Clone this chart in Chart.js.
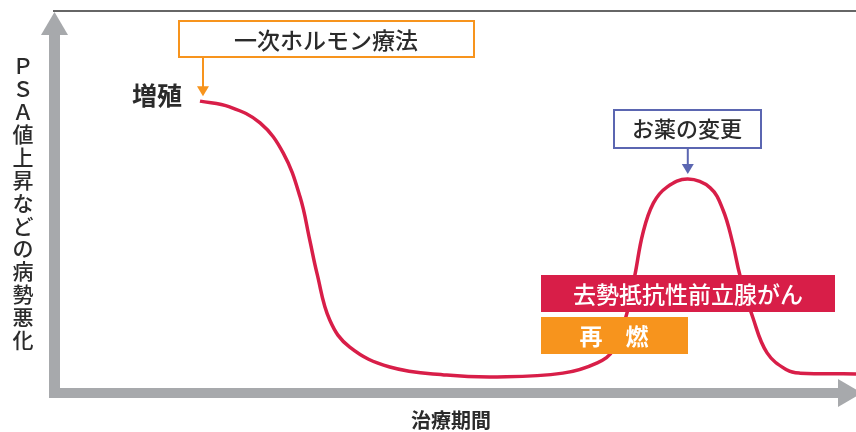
<!DOCTYPE html>
<html>
<head>
<meta charset="utf-8">
<script src="https://cdn.jsdelivr.net/npm/chart.js@4/dist/chart.umd.min.js"></script>
<style>
html, body { margin: 0; padding: 0; background: #fff; }
#wrap { width: 856px; height: 432px; position: relative; }
</style>
</head>
<body>
<div id="wrap"><canvas id="myChart" width="856" height="432"></canvas></div>
<script>
// treatment time (0-100) and PSA level (0-100)
var timeVals = [18.1, 21.8, 25.6, 28.5, 30.6, 31.8, 32.7, 34.3, 36.8, 41.8, 48.9, 55.2, 63.4, 67.7, 69.7, 71.4, 72.4, 73.4, 74.7, 76.4, 79.0, 81.8, 83.4, 84.6, 85.5, 87.1, 88.9, 91.4, 93.0, 100];
var psaVals = [76.4, 74.9, 70.7, 62.8, 51.3, 40.1, 31.4, 19.1, 12.0, 6.8, 4.7, 4.2, 5.2, 7.9, 11.3, 20.9, 30.9, 41.9, 49.7, 53.9, 56.0, 53.7, 47.9, 39.3, 30.9, 19.9, 10.5, 6.0, 5.2, 5.0];

var yTitle = 'ＰＳＡ値上昇などの病勢悪化';
var xTitle = '治療期間';
var startLabel = '増殖';
var firstTherapy = '一次ホルモン療法';
var drugChange = 'お薬の変更';
var crpcLabel = '去勢抵抗性前立腺がん';
var relapseLabel = '再　燃';

var RED = '#d81e48';
var ORANGE = '#f7941d';
var BLUE = '#5b66b1';
var GRAY = '#a7a9ac';
var INK = '#2b2b2b';
var FONT = '"Noto Sans CJK JP", "Noto Sans", sans-serif';

function arrowDown(ctx, x, y0, y1, color) {
    ctx.strokeStyle = color;
    ctx.fillStyle = color;
    ctx.lineWidth = 2;
    ctx.beginPath();
    ctx.moveTo(x, y0);
    ctx.lineTo(x, y1 - 9);
    ctx.stroke();
    ctx.beginPath();
    ctx.moveTo(x - 6, y1 - 10);
    ctx.lineTo(x + 6, y1 - 10);
    ctx.lineTo(x, y1);
    ctx.closePath();
    ctx.fill();
}

var axesPlugin = {
    id: 'axesArrows',
    beforeDatasetsDraw: function(chart) {
        var ctx = chart.ctx;
        var a = chart.chartArea;
        ctx.save();
        // top rule
        ctx.strokeStyle = '#333';
        ctx.lineWidth = 1.5;
        ctx.beginPath();
        ctx.moveTo(53, a.top);
        ctx.lineTo(856, a.top);
        ctx.stroke();
        // gray axes
        ctx.fillStyle = GRAY;
        ctx.fillRect(a.left - 6, 35, 11, a.bottom + 5 - 35);
        ctx.fillRect(a.left - 6, a.bottom - 5, 838 - (a.left - 6), 10);
        ctx.beginPath();
        ctx.moveTo(a.left - 14, 35);
        ctx.lineTo(a.left + 13, 35);
        ctx.lineTo(a.left - 0.5, 12);
        ctx.closePath();
        ctx.fill();
        ctx.beginPath();
        ctx.moveTo(838, a.bottom - 14);
        ctx.lineTo(838, a.bottom + 14);
        ctx.lineTo(862, a.bottom);
        ctx.closePath();
        ctx.fill();
        // axis titles
        ctx.fillStyle = INK;
        ctx.textAlign = 'center';
        ctx.textBaseline = 'middle';
        ctx.font = '500 21px ' + FONT;
        var chars = yTitle.split('');
        for (var i = 0; i < chars.length; i++) {
            ctx.fillText(chars[i], 23, 66 + i * 22.8);
        }
        ctx.font = 'bold 20px ' + FONT;
        ctx.fillText(xTitle, 451, 420);
        ctx.restore();
    },
    afterDatasetsDraw: function(chart) {
        var ctx = chart.ctx;
        var xs = chart.scales.x;
        var ys = chart.scales.y;
        ctx.save();
        ctx.textAlign = 'center';
        ctx.textBaseline = 'middle';

        // start of therapy
        var sx = xs.getPixelForValue(timeVals[0]);
        var sy = ys.getPixelForValue(psaVals[0]);
        ctx.fillStyle = INK;
        ctx.font = 'bold 25px ' + FONT;
        ctx.fillText(startLabel, 157, 95);
        ctx.strokeStyle = ORANGE;
        ctx.lineWidth = 2;
        ctx.fillStyle = '#fff';
        ctx.fillRect(179, 21, 295, 36);
        ctx.strokeRect(179, 21, 295, 36);
        ctx.fillStyle = INK;
        ctx.font = '500 23px ' + FONT;
        ctx.fillText(firstTherapy, 326, 40);
        arrowDown(ctx, sx + 3, 57, sy - 5, ORANGE);

        // peak of the relapse: drug change
        var pk = -1;
        for (var i = 0; i < psaVals.length; i++) {
            if (timeVals[i] > 60 && (pk < 0 || psaVals[i] > psaVals[pk])) pk = i;
        }
        var px = xs.getPixelForValue(timeVals[pk]);
        var py = ys.getPixelForValue(psaVals[pk]);
        ctx.strokeStyle = BLUE;
        ctx.lineWidth = 2;
        ctx.fillStyle = '#fff';
        ctx.fillRect(614, 110, 147, 38);
        ctx.strokeRect(614, 110, 147, 38);
        ctx.fillStyle = INK;
        ctx.font = '500 22px ' + FONT;
        ctx.fillText(drugChange, 687, 129);
        arrowDown(ctx, px, 148, py - 5, BLUE);

        // labels over the curve
        ctx.fillStyle = RED;
        ctx.fillRect(541, 275, 294, 37);
        ctx.fillStyle = '#fff';
        ctx.font = '500 23px ' + FONT;
        ctx.fillText(crpcLabel, 688, 294);
        ctx.fillStyle = ORANGE;
        ctx.fillRect(541, 317, 147, 37);
        ctx.fillStyle = '#fff';
        ctx.font = 'bold 23px ' + FONT;
        ctx.fillText(relapseLabel, 614, 336);
        ctx.restore();
    }
};

var points = [];
for (var i = 0; i < timeVals.length; i++) {
    points.push({ x: timeVals[i], y: psaVals[i] });
}

var ctx = document.getElementById('myChart').getContext('2d');
var myChart = new Chart(ctx, {
    type: 'line',
    data: {
        datasets: [{
            label: 'PSA',
            data: points,
            borderColor: RED,
            borderWidth: 3.5,
            pointRadius: 0,
            tension: 0.4,
            fill: false
        }]
    },
    options: {
        responsive: false,
        animation: false,
        layout: { padding: { left: 55, right: 0, top: 11, bottom: 39 } },
        plugins: { legend: { display: false }, tooltip: { enabled: false } },
        scales: {
            x: { type: 'linear', min: 0, max: 100, display: false },
            y: { min: 0, max: 100, display: false }
        }
    },
    plugins: [axesPlugin]
});
</script>
</body>
</html>
